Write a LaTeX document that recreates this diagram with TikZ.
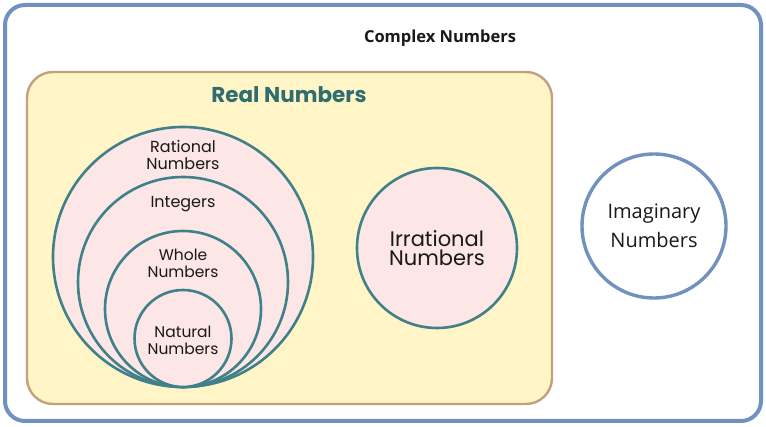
\documentclass[tikz,border=0pt]{standalone}
\usepackage{fontspec}
\setmainfont{Open Sans}
\newfontfamily\pop{Poppins}
\usetikzlibrary{calc}

\definecolor{frameblue}{HTML}{7191BE}
\definecolor{boxtan}{HTML}{C4A07E}
\definecolor{boxyellow}{HTML}{FFF5C6}
\definecolor{ringteal}{HTML}{3F8089}
\definecolor{ringpink}{HTML}{FCE6E6}
\definecolor{titleteal}{HTML}{2F6D70}

\tikzset{
  ring/.style={circle, draw=ringteal, line width=2.6pt, fill=ringpink, inner sep=0pt},
  lbl/.style={font=\pop\fontsize{16}{17}\selectfont, align=center, text=black!90},
}

\begin{document}
\begin{tikzpicture}[x=1pt,y=-1pt]
\useasboundingbox (0,0) rectangle (766,427);

%outer frame and real box
\draw [frameblue, line width=4pt, rounded corners=20pt, fill=white] (5,5) rectangle (761,421);
\draw [boxtan, line width=2.4pt, rounded corners=26pt, fill=boxyellow] (27,72) rectangle (552,404);

%nested circles, all touching at the bottom
\node [ring, minimum size=260pt] (rational) at (183,257) {};
\node [ring, minimum size=210pt] (integers) at (183,282) {};
\node [ring, minimum size=156pt] (whole)    at (183,309) {};
\node [ring, minimum size=97pt]  (natural)  at (183,338.5) {};

%other circles
\node [ring, minimum size=160pt] (irrational) at (437,248) {};
\node [circle, draw=frameblue, line width=3.4pt, fill=white, minimum size=144pt] (imaginary) at (654,226) {};

%labels
\node [font=\bfseries\fontsize{16.5}{20}\selectfont, text=black!90] at (440,38) {Complex Numbers};
\node [font=\pop\bfseries\fontsize{21.5}{23}\selectfont, text=titleteal] at (289,95) {Real Numbers};
\node [lbl] at (183,155) {Rational\\Numbers};
\node [lbl] at (183,204) {Integers};
\node [lbl, font=\pop\fontsize{15.5}{17}\selectfont] at (183,263.5) {Whole\\Numbers};
\node [lbl, font=\pop\fontsize{15.5}{17}\selectfont] at (183,340.5) {Natural\\Numbers};
\node [lbl, font=\pop\fontsize{21}{19.5}\selectfont] at (irrational) {Irrational\\Numbers};
\node [align=center, font=\fontsize{20}{29}\selectfont, text=black!90] at (imaginary) {Imaginary\\Numbers};

\end{tikzpicture}
\end{document}
